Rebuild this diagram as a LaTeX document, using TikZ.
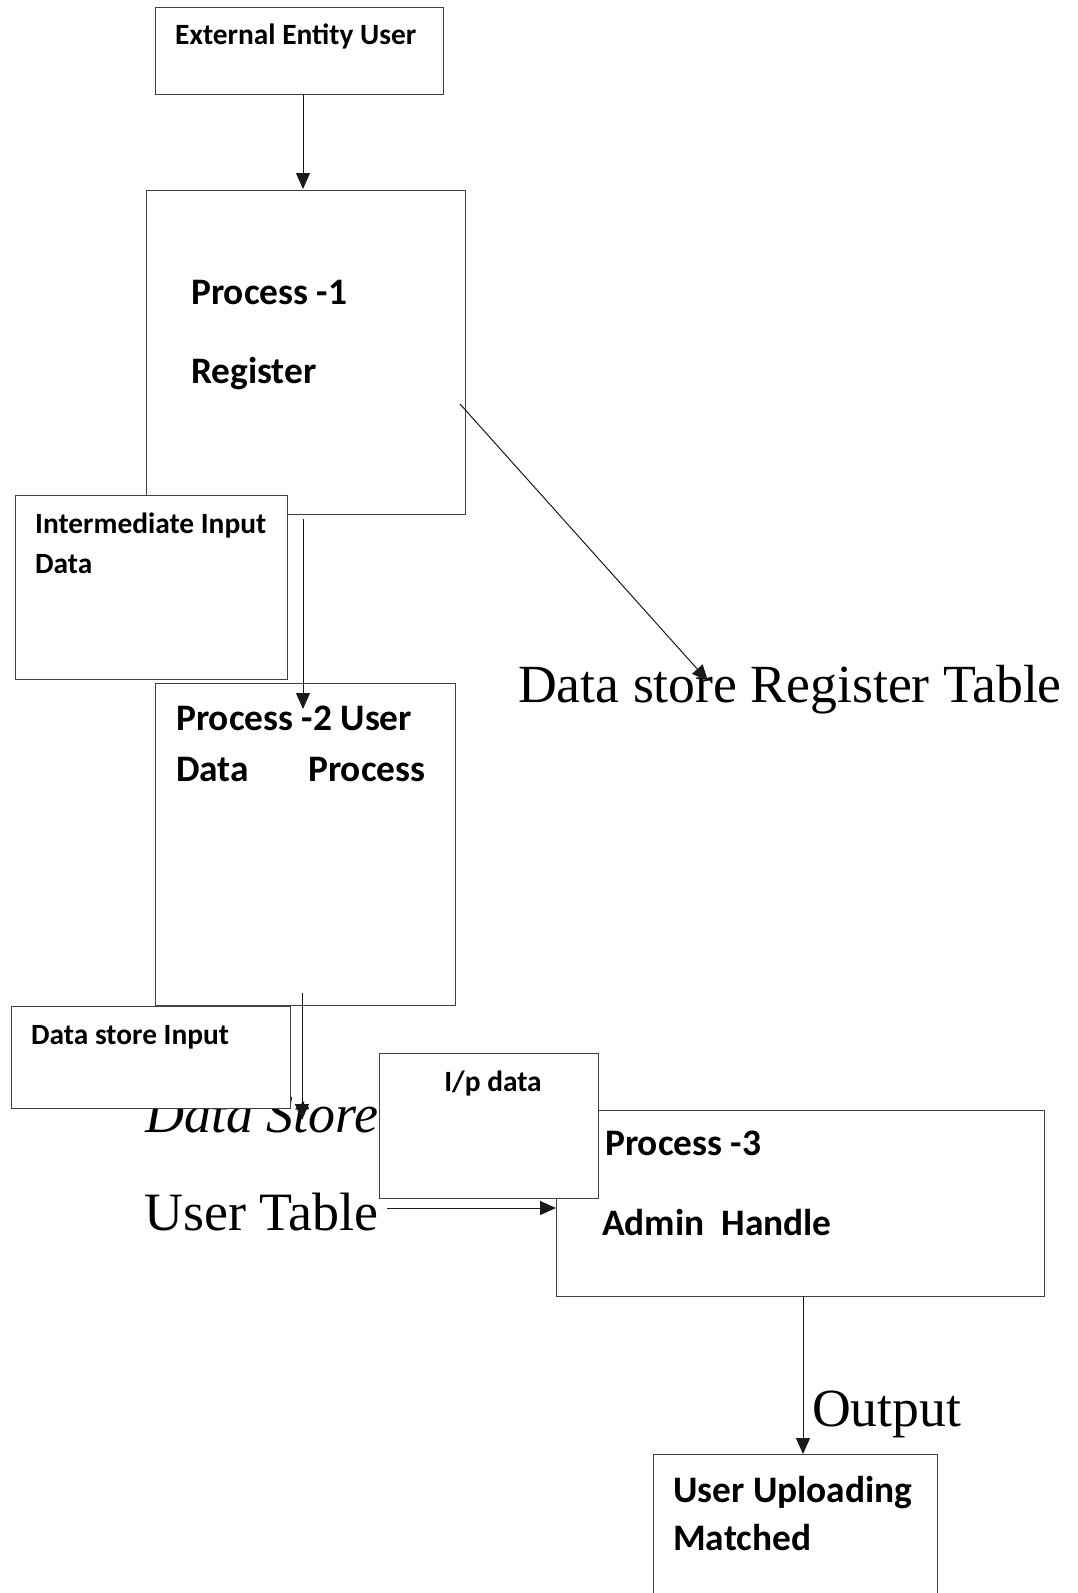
\documentclass[tikz,border=0pt]{standalone}
\usepackage{fontspec}
\setmainfont{Liberation Serif}
\newfontfamily\labfont{Carlito}
\usetikzlibrary{arrows.meta}
\tikzset{
  box/.style={draw=black!75, line width=1.3pt, fill=white, anchor=north west, inner sep=0pt},
  lab/.style={anchor=base west, inner sep=0pt, font=\labfont\bfseries\fontsize{29.4}{35}\selectfont},
  biglab/.style={anchor=base west, inner sep=0pt, font=\labfont\bfseries\fontsize{37.4}{44}\selectfont},
  serif/.style={anchor=base west, inner sep=0pt, font=\fontsize{53.7}{60}\selectfont},
  flow/.style={draw=black!90, line width=1pt, -{Triangle[width=14pt,length=16pt]}}
}
\begin{document}
\begin{tikzpicture}[x=1pt,y=-1pt]
\useasboundingbox (0,0) rectangle (1078,1593);
% free-standing serif texts (under boxes)
\node[serif] (dsreg) at (518,702) {Data store Register Table};
\node[serif, font=\itshape\fontsize{54}{60}\selectfont] (dstore) at (145,1132) {Data Store};
\node[serif, font=\fontsize{54}{60}\selectfont] (utable) at (144,1230) {User Table};
\node[serif] (outp) at (812,1426) {Output};
% boxes
\node[box, minimum width=288pt, minimum height=87pt] (eeu) at (155,7) {};
\node[box, minimum width=319pt, minimum height=324pt] (p1) at (146,190) {};
\node[box, minimum width=272pt, minimum height=184pt] (inter) at (15,495) {};
\node[box, minimum width=300pt, minimum height=322pt] (p2) at (155,683) {};
\node[box, minimum width=279pt, minimum height=102pt] (dsi) at (11,1006) {};
\node[box, minimum width=488pt, minimum height=186pt] (p3) at (556,1110) {};
\node[box, minimum width=219pt, minimum height=145pt] (ip) at (379,1053) {};
\node[box, minimum width=284pt, minimum height=160pt] (uum) at (653,1454) {};
% box texts
\node[lab] (teeu) at (175,44) {External Entity User};
\node[biglab] (tp1a) at (191,304) {Process -1};
\node[biglab] (tp1b) at (191,383) {Register};
\node[lab] (tinta) at (35,533) {Intermediate Input};
\node[lab] (tintb) at (35,573) {Data};
\node[biglab] (tp2a) at (176,730) {Process -2 User};
\node[biglab] (tp2b) at (176,781) {Data};
\node[biglab] (tp2c) at (308,781) {Process};
\node[lab] (tdsi) at (31,1044) {Data store Input};
\node[lab, anchor=base] (tip) at (493,1091) {I/p data};
\node[biglab] (tp3a) at (605,1155) {Process -3};
\node[biglab] (tp3b) at (602,1235) {Admin\ \ Handle};
\node[biglab] (tuuma) at (673,1502) {User Uploading};
\node[biglab] (tuumb) at (673,1550) {Matched};
% connector end points
\coordinate (a1s) at (303,94);   \coordinate (a1e) at (303,189);
\coordinate (a2s) at (303,519);  \coordinate (a2e) at (303,709);
\coordinate (ads) at (460,404);  \coordinate (ade) at (708,681);
\coordinate (a3s) at (302,993);  \coordinate (a3e) at (302,1120);
\coordinate (a4s) at (387,1208); \coordinate (a4e) at (556,1208);
\coordinate (a5s) at (803,1296); \coordinate (a5e) at (803,1454);
\draw[flow] (a1s) -- (a1e);
\draw[flow] (a2s) -- (a2e);
\draw[flow] (ads) -- (ade);
\draw[flow] (a3s) -- (a3e);
\draw[flow] (a4s) -- (a4e);
\draw[flow] (a5s) -- (a5e);
\end{tikzpicture}
\end{document}
